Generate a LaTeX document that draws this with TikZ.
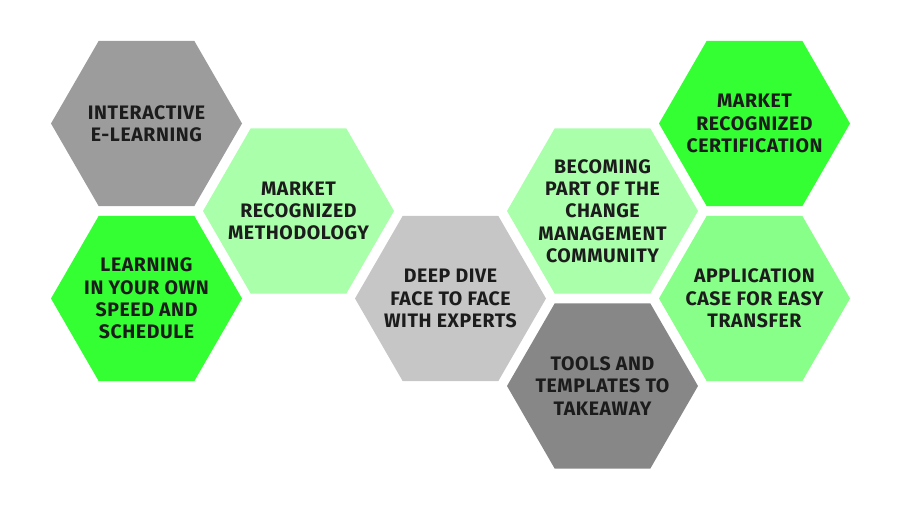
\documentclass[tikz,border=0pt]{standalone}
\usepackage{fontspec}
\setmainfont{Fira Sans}[LetterSpace=3]
\usetikzlibrary{shapes.geometric}

\definecolor{hexgray}{HTML}{9C9C9C}
\definecolor{hexsilver}{HTML}{C6C6C6}
\definecolor{hexdark}{HTML}{878787}
\definecolor{hexpale}{HTML}{AAFFAA}
\definecolor{hexmint}{HTML}{88FF88}
\definecolor{hexlime}{HTML}{33FF33}
\definecolor{hextext}{HTML}{1C1C1C}

\begin{document}
\begin{tikzpicture}[x=1pt, y=-1pt,
    every node/.style={regular polygon, regular polygon sides=6, minimum size=191pt,
        inner sep=-20pt, outer sep=0pt, align=center, text=hextext,
        font=\fontsize{19.5}{22.3}\selectfont\bfseries},
    hex/.style={fill=#1}]
\useasboundingbox (0,0) rectangle (900,524);

\node[hex=hexgray]   (elearn)  at (146.5,123.5) {INTERACTIVE\\E-LEARNING};
\node[hex=hexlime]   (speed)   at (146.5,298.5) {LEARNING\\IN YOUR OWN\\SPEED AND\\SCHEDULE};
\node[hex=hexpale]   (method)  at (298.5,211)   {MARKET\\RECOGNIZED\\METHODOLOGY};
\node[hex=hexsilver] (deep)    at (450.5,298.5) {DEEP DIVE\\FACE TO FACE\\WITH EXPERTS};
\node[hex=hexpale]   (commun)  at (602.5,211)   {BECOMING\\PART OF THE\\CHANGE\\MANAGEMENT\\COMMUNITY};
\node[hex=hexdark]   (tools)   at (602.5,386)   {TOOLS AND\\TEMPLATES TO\\TAKEAWAY};
\node[hex=hexlime]   (cert)    at (754.5,123.5) {MARKET\\RECOGNIZED\\CERTIFICATION};
\node[hex=hexmint]   (transf)  at (754.5,298.5) {APPLICATION\\CASE FOR EASY\\TRANSFER};

\end{tikzpicture}
\end{document}
